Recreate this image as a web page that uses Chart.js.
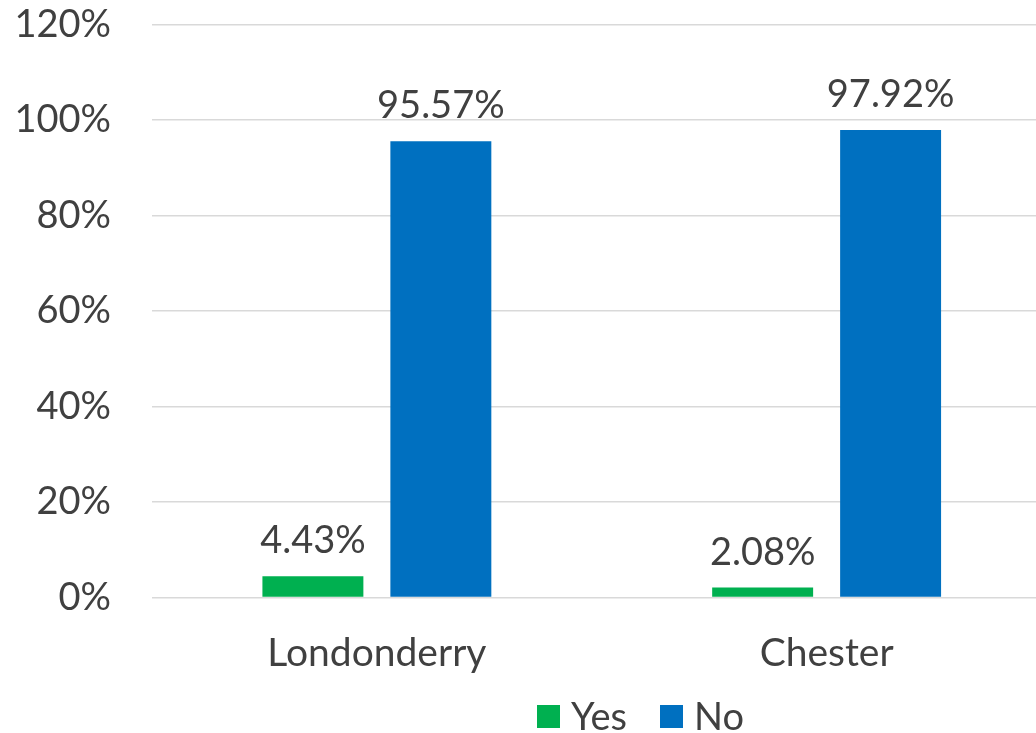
<!DOCTYPE html>
<html>
<head>
<meta charset="utf-8">
<script src="https://cdn.jsdelivr.net/npm/chart.js@4/dist/chart.umd.min.js"></script>
<style>
  html, body { margin: 0; padding: 0; overflow: hidden; background: #fff; }
  #wrap { position: relative; width: 1060px; height: 733px; }
  #legend { position: absolute; top: 704px; left: 537px; font: 38px Lato, sans-serif; color: #404040; white-space: nowrap; }
  #legend span.box { display: inline-block; width: 23px; height: 23px; margin-top: 1px; vertical-align: top; }
  #legend span.lbl { display: inline-block; line-height: 23px; height: 23px; vertical-align: top; }
</style>
</head>
<body>
<div id="wrap">
  <canvas id="chart"></canvas>
  <div id="legend"></div>
</div>
<script>
// chart values
var categories = ["Londonderry", "Chester"];
var yesValues = [4.43, 2.08];
var noValues = [95.57, 97.92];
var yTicks = [0, 20, 40, 60, 80, 100, 120];

var textColor = "#404040";
var fontFamily = "Lato, sans-serif";

var series = [
    { name: "Yes", data: yesValues, color: "#00B050" },
    { name: "No", data: noValues, color: "#0070C0" }
];

// labels above each bar
var valueLabels = {
    id: "valueLabels",
    afterDatasetsDraw: function(chart) {
        var ctx = chart.ctx;
        ctx.save();
        ctx.font = "38px " + fontFamily;
        ctx.fillStyle = textColor;
        ctx.textAlign = "center";
        ctx.textBaseline = "alphabetic";
        chart.data.datasets.forEach(function(ds, i) {
            chart.getDatasetMeta(i).data.forEach(function(bar, j) {
                ctx.fillText(ds.data[j].toFixed(2) + "%", bar.x, bar.y - 23);
            });
        });
        ctx.restore();
    }
};

var ctx = document.getElementById("chart");
var chart = new Chart(ctx, {
    type: "bar",
    data: {
        labels: categories,
        datasets: series.map(function(s) {
            return {
                label: s.name,
                data: s.data,
                backgroundColor: s.color,
                borderWidth: 0,
                categoryPercentage: 0.569,
                barPercentage: 0.789
            };
        })
    },
    options: {
        responsive: true,
        maintainAspectRatio: false,
        animation: false,
        devicePixelRatio: 1,
        layout: { padding: { top: 24.5, right: 8.5, bottom: 0, left: 0 } },
        plugins: {
            legend: { display: false },
            tooltip: { enabled: false }
        },
        scales: {
            x: {
                grid: { display: false, drawTicks: false },
                border: { display: false },
                ticks: {
                    color: textColor,
                    font: { family: fontFamily, size: 39 },
                    padding: 33,
                    maxRotation: 0
                },
                afterFit: function(scale) { scale.height = 135.5; }
            },
            y: {
                min: 0,
                max: 120,
                afterBuildTicks: function(scale) {
                    scale.ticks = yTicks.map(function(v) { return { value: v }; });
                },
                // invisible tick marks give the gap between labels and plot
                grid: { color: "#D9D9D9", lineWidth: 1.5, drawTicks: true, tickLength: 41, tickColor: "rgba(0,0,0,0)" },
                border: { display: false },
                ticks: {
                    color: textColor,
                    font: { family: fontFamily, size: 38 },
                    padding: 0,
                    callback: function(v) { return v + "%"; }
                },
                afterFit: function(scale) { scale.width = 152; }
            }
        }
    },
    plugins: [valueLabels]
});

// legend
var legend = document.getElementById("legend");
series.forEach(function(s, i) {
    var box = document.createElement("span");
    box.className = "box";
    box.style.background = s.color;
    box.style.marginLeft = i > 0 ? "33px" : "0";
    var lbl = document.createElement("span");
    lbl.className = "lbl";
    lbl.style.marginLeft = "11px";
    lbl.textContent = s.name;
    legend.appendChild(box);
    legend.appendChild(lbl);
});
</script>
</body>
</html>
